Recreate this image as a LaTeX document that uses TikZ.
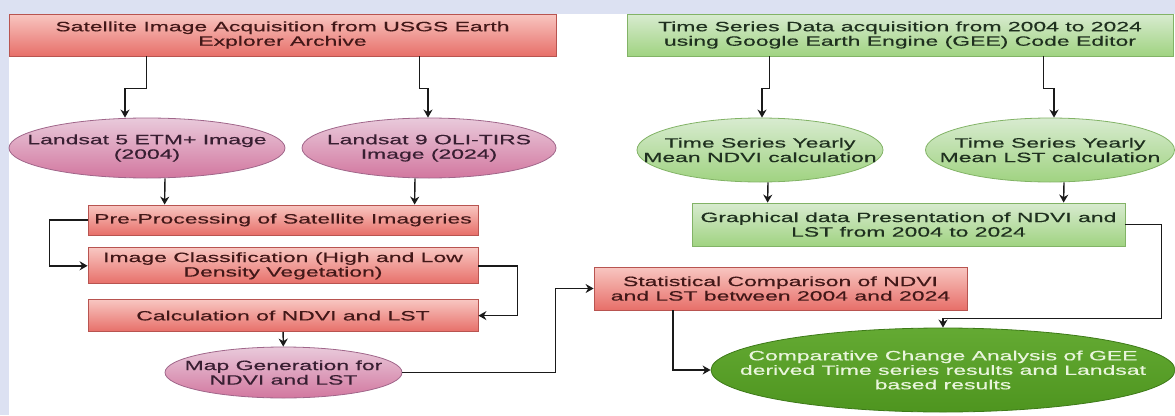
\documentclass[tikz,border=0pt]{standalone}
\usepackage{fontspec}
\setmainfont{Liberation Sans}[FakeStretch=1.7, FakeBold=0.4]
\usetikzlibrary{arrows.meta,positioning,calc,shapes.geometric}
\definecolor{FlowBand}{HTML}{DCE1F2}
\definecolor{FlowDark}{HTML}{1A1A1A}
\definecolor{FlowRedTop}{HTML}{F8C6C1}
\definecolor{FlowRedBot}{HTML}{E76F69}
\definecolor{FlowRedLine}{HTML}{B85450}
\definecolor{FlowRedText}{HTML}{421818}
\definecolor{FlowPinkTop}{HTML}{E9CADB}
\definecolor{FlowPinkBot}{HTML}{D2779F}
\definecolor{FlowPinkLine}{HTML}{A0668A}
\definecolor{FlowPinkText}{HTML}{381F32}
\definecolor{FlowGreenTop}{HTML}{D8EBD0}
\definecolor{FlowGreenBot}{HTML}{A0D381}
\definecolor{FlowGreenLine}{HTML}{82B366}
\definecolor{FlowGreenText}{HTML}{1F301F}
\definecolor{FlowLeafTop}{HTML}{64AA33}
\definecolor{FlowLeafBot}{HTML}{4E951F}
\definecolor{FlowLeafLine}{HTML}{3D7A18}
\definecolor{FlowLeafText}{HTML}{E9F5DC}
\tikzset{
  flowtext/.style={font=\fontsize{13.5}{14.5}\selectfont, align=center, inner sep=0pt},
  redbox/.style={flowtext, rectangle, draw=FlowRedLine, top color=FlowRedTop,
                 bottom color=FlowRedBot, line width=0.8pt, text=FlowRedText},
  greenbox/.style={flowtext, rectangle, draw=FlowGreenLine, top color=FlowGreenTop,
                   bottom color=FlowGreenBot, line width=0.8pt, text=FlowGreenText},
  oval/.style={flowtext, ellipse, inner xsep=-80pt, line width=0.8pt},
  pinkoval/.style={oval, draw=FlowPinkLine, top color=FlowPinkTop,
                   bottom color=FlowPinkBot, text=FlowPinkText},
  greenoval/.style={oval, draw=FlowGreenLine, top color=FlowGreenTop,
                    bottom color=FlowGreenBot, text=FlowGreenText},
  leafoval/.style={oval, draw=FlowLeafLine, top color=FlowLeafTop,
                   bottom color=FlowLeafBot, text=FlowLeafText},
  arrow/.style={-{Stealth[length=8pt,width=9pt]}, line width=1.4pt, FlowDark},
}

\begin{document}
\begin{tikzpicture}[x=1pt, y=1pt]

  \useasboundingbox (0,0) rectangle (1175,-415);
  \fill[FlowBand] (0,0) rectangle (1175,-14);
  \fill[FlowBand] (0,0) rectangle (9,-415);

  % Landsat branch
  \node[redbox, minimum width=547pt, minimum height=42pt] (acq) at (282.5,-35)
    {Satellite Image Acquisition from USGS Earth\\Explorer Archive};
  \node[pinkoval, minimum width=276pt, minimum height=60pt] (ls5) at (147,-148)
    {Landsat 5 ETM+ Image\\(2004)};
  \node[pinkoval, minimum width=254pt, minimum height=60pt] (ls9) at (429,-148)
    {Landsat 9 OLI-TIRS\\Image (2024)};
  \node[redbox, minimum width=390pt, minimum height=30pt] (prep) at (283,-220)
    {Pre-Processing of Satellite Imageries};
  \node[redbox, minimum width=390pt, minimum height=36pt, below=12pt of prep] (classify)
    {Image Classification (High and Low\\Density Vegetation)};
  \node[redbox, minimum width=390pt, minimum height=32pt, below=15pt of classify] (calc)
    {Calculation of NDVI and LST};
  \node[pinkoval, minimum width=237pt, minimum height=51pt] (mapgen) at (283.5,-372.5)
    {Map Generation for\\NDVI and LST};
  \node[redbox, minimum width=373pt, minimum height=43pt] (stats) at (780.5,-288.5)
    {Statistical Comparison of NDVI\\and LST between 2004 and 2024};

  % GEE branch
  \node[greenbox, minimum width=546pt, minimum height=42pt] (gee) at (900,-35)
    {Time Series Data acquisition from 2004 to 2024\\using Google Earth Engine (GEE) Code Editor};
  \node[greenoval, minimum width=246pt, minimum height=64pt] (ndvimean) at (760,-150)
    {Time Series Yearly\\Mean NDVI calculation};
  \node[greenoval, minimum width=249pt, minimum height=64pt] (lstmean) at (1050,-150)
    {Time Series Yearly\\Mean LST calculation};
  \node[greenbox, minimum width=433pt, minimum height=43pt] (graph) at (908.5,-224.5)
    {Graphical data Presentation of NDVI and\\LST from 2004 to 2024};
  \node[leafoval, minimum width=464pt, minimum height=84pt] (compare) at (943,-370)
    {Comparative Change Analysis of GEE\\derived Time series results and Landsat\\based results};

  \draw[arrow] ($(acq.south west)+(138,0)$) -- ++(0,-32) -| ($(ls5.north)+(-22,0)$);
  \draw[arrow] ($(acq.south west)+(411,0)$) -- ++(0,-32) -| ($(ls9.north)+(-1,0)$);
  \draw[arrow] ($(gee.south west)+(143,0)$) -- ++(0,-32) -| ($(ndvimean.north)+(2,0)$);
  \draw[arrow] ($(gee.south west)+(417,0)$) -- ++(0,-32) -| ($(lstmean.north)+(4,0)$);

  \draw[arrow] ($(ls5.south)+(18,0)$) -- ($(prep.north west)+(77,0)$);
  \draw[arrow] ($(ls9.south)+(-14,0)$) -- ($(prep.north west)+(327,0)$);
  \draw[arrow] ($(ndvimean.south)+(8,0)$) -- ($(graph.north west)+(76,0)$);
  \draw[arrow] ($(lstmean.south)+(14,0)$) -- ($(graph.north west)+(372,0)$);

  \draw[arrow] (prep.west) -- ++(-38,0) |- (classify.west);
  \draw[arrow] (classify.east) -- ++(39,0) |- (calc.east);
  \draw[arrow] (calc) -- (mapgen);
  \draw[arrow] (mapgen.east) -- ++(153,0) |- (stats.west);
  \draw[arrow] ($(stats.south)+(-107.5,0)$) |- (compare.west);
  \draw[arrow] (graph.east) -- ++(36,0) -- ++(0,-94) -| (compare.north);

\end{tikzpicture}
\end{document}
